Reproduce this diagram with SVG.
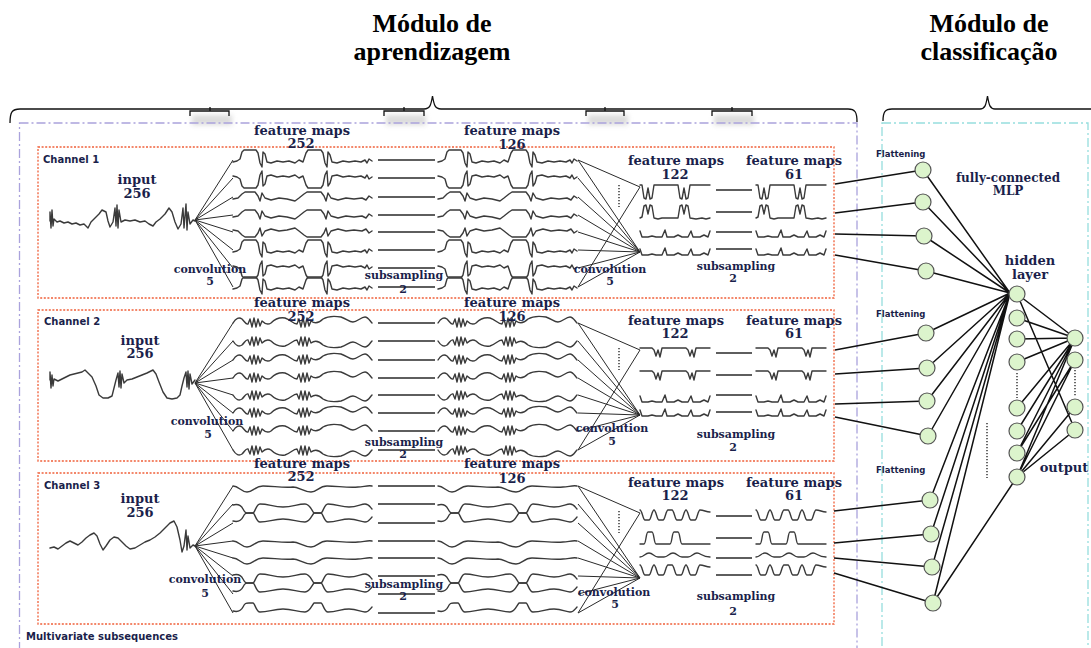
<svg xmlns="http://www.w3.org/2000/svg" width="1091" height="648" viewBox="0 0 1091 648">
<style>
 .w{fill:none;stroke:#3a3a3a;stroke-width:1.4;stroke-linejoin:round;stroke-linecap:round}
 .ln{fill:none;stroke:#2a2a2a;stroke-width:1}
 .sub{fill:none;stroke:#2a2a2a;stroke-width:1.4}
 .dots{fill:none;stroke:#444;stroke-width:1.6;stroke-dasharray:1.2 1.8}
 .chbox{fill:none;stroke:#f0603a;stroke-width:1.3;stroke-dasharray:2 1.6}
 .mod1{fill:none;stroke:#aaa2dc;stroke-width:1.3;stroke-dasharray:9 3 2 3}
 .mod2{fill:none;stroke:#96dede;stroke-width:1.3;stroke-dasharray:9 3 2 3}
 .brace{fill:none;stroke:#111;stroke-width:1.3}
 .mlp{fill:none;stroke:#111;stroke-width:1.5}
 .node{fill:#dcf4cc;stroke:#555;stroke-width:1.2}
 .title{font-family:"Liberation Serif",serif;font-weight:bold;font-size:26px;fill:#000;text-anchor:middle}
 .lb{font-family:"DejaVu Serif",serif;font-weight:bold;fill:#1b1f4b;text-anchor:middle}
 .fm{font-size:13px}
 .sm{font-size:11px}
 .ch{font-family:"DejaVu Sans",sans-serif;font-weight:bold;font-size:10px;fill:#1b1f4b}
 .fl{font-family:"DejaVu Sans",sans-serif;font-weight:bold;font-size:8.5px;fill:#1b1f4b}
</style>
<defs>
 <filter id="soft" x="-30%" y="-60%" width="160%" height="220%"><feGaussianBlur stdDeviation="2.5"/></filter>
 <!-- long feature-map traces, 139 px wide, baseline at y=0 -->
 <path id="P" class="w" d="M0,2 L4,1 L7,-1 L9,-8 L11,-10 L23,-10 L25,-7 L27,3 L29,7 L30,-8 L32,-6 L34,2 L38,3 L44,1 L50,2 L56,1 L62,3 L66,0 L70,2 L73,-7 L75,-10 L88,-10 L90,-7 L92,3 L94,7 L95,-8 L97,-5 L99,2 L104,3 L110,1 L116,2 L122,1 L128,2 L132,0 L134,3 L136,-1 L139,1"/>
 <path id="Q" class="w" d="M0,2 L5,1 L9,-3 L12,-5 L22,-5 L25,-1 L27,4 L29,-4 L32,1 L38,3 L46,1 L54,2 L62,4 L66,1 L71,-3 L74,-5 L88,-5 L91,-1 L93,4 L95,-4 L98,1 L105,3 L113,1 L121,2 L129,1 L133,3 L136,-1 L139,1"/>
 <path id="W" class="w" d="M0,0 C3,-5 6,-6 9,-4 C12,-1 13,2 15,1 L17,-4 L19,4 L21,-5 L23,4 L25,-4 L27,3 L29,-2 C32,1 35,2 38,0 C42,-4 46,-6 52,-5 C58,-3 60,1 64,1 L66,-4 L68,4 L70,-5 L72,4 L74,-5 L76,3 L78,-2 C82,1 86,0 90,-4 C95,-7 102,-7 108,-6 C114,-4 116,-1 120,-1 C124,-1 128,-6 132,-6 C135,-6 137,-2 139,0"/>
 <path id="S" class="w" d="M0,-8 C4,-9 8,-8 10,-4 C12,0 13,0 16,0 L20,0 C22,0 23,-9 27,-9 C36,-9 40,-6 50,-6 C60,-6 64,-9 72,-9 C77,-9 79,-2 81,0 L88,0 C90,0 91,-9 95,-9 C104,-9 108,-6 116,-6 C124,-6 128,-9 132,-9 C136,-9 137,-6 139,-4"/>
 <path id="G" class="w" d="M0,-2 C6,-2 8,4 14,4 C20,4 22,-2 30,-2 C40,-2 50,0 60,-1 C66,-1 70,4 78,4 C84,4 86,-2 94,-2 C104,-2 115,0 125,-1 C130,-1 135,-3 139,-2"/>
 <!-- short feature-map traces, 70 px wide -->
 <path id="V2" class="w" d="M0,0 L2,0 L4,13 L6,14 L8,3 L10,14 L12,13 L14,0 L38,0 L40,13 L42,14 L44,3 L46,14 L48,13 L50,0 L70,0"/>
 <path id="M2" class="w" d="M0,0 L2,-1 L4,-12 L6,-13 L8,-4 L10,-13 L12,-12 L14,0 L18,1 L22,0 L38,0 L40,-12 L42,-13 L44,-4 L46,-13 L48,-12 L50,0 L56,1 L62,0 L66,1 L70,0"/>
 <path id="K" class="w" d="M0,-6 L2,0 L8,0 L12,-1 L16,0 L22,0 L25,-7 L27,0 L34,0 L38,-2 L42,0 L48,0 L51,-6 L53,0 L60,0 L64,-2 L68,0 L70,-6"/>
 <path id="D" class="w" d="M0,0 L12,0 L14,2 L16,8 L18,2 L20,9 L22,0 L46,0 L48,2 L50,8 L52,2 L54,9 L56,0 L70,0"/>
 <path id="SV" class="w" d="M0,0 C2,0 3,10 5,10 L9,10 C11,10 12,0 14,0 C16,0 17,10 19,10 L23,10 C25,10 26,0 28,0 L32,0 C34,0 35,10 37,10 L41,10 C43,10 44,0 46,0 C48,0 49,10 51,10 L55,10 C57,10 58,0 60,0 C64,0 66,2 70,2"/>
 <path id="SP" class="w" d="M0,0 L4,0 C6,0 6,-12 8,-12 L12,-12 C14,-12 14,0 16,0 L30,0 C32,0 32,-12 34,-12 L38,-12 C40,-12 40,0 42,0 L70,0"/>
 <path id="SG" class="w" d="M0,0 C4,0 5,-4 9,-4 C13,-4 14,0 18,0 L24,0 C28,0 29,-4 33,-4 C37,-4 38,0 42,0 L48,0 C52,0 53,-4 57,-4 C61,-4 62,0 70,0"/>
 <!-- frame shared by every channel: box, convolution fans, subsampling links -->
 <g id="skel">
  <rect class="chbox" x="38" y="147" width="796" height="151"/>
  <path class="ln" d="M195,220 L233,160 M195,220 L233,178 M195,220 L233,197 M195,220 L233,215 M195,220 L233,232 M195,220 L233,250 M195,220 L233,268 M195,220 L233,287"/>
  <path class="sub" d="M378,160 H435 M378,178 H435 M378,197 H435 M378,215 H435 M378,232 H435 M378,250 H435 M378,268 H435 M378,287 H435"/>
  <path class="ln" d="M578,160 L640,252 M578,178 L640,252 M578,197 L640,252 M578,215 L640,252 M578,232 L640,252 M578,250 L640,252 M578,268 L640,252 M578,287 L640,252 M578,160 L640,187 M578,287 L640,187"/>
  <path class="dots" d="M619,185 V207"/>
  <path class="sub" d="M716,190 H752 M716,212 H752 M716,232 H752 M716,249 H752"/>
 </g>
</defs>

<rect width="1091" height="648" fill="#fff"/>

<!-- module headings and braces -->
<g id="headings">
 <text class="title" x="432" y="32">Módulo de</text>
 <text class="title" x="432" y="60">aprendizagem</text>
 <text class="title" x="989" y="32">Módulo de</text>
 <text class="title" x="989" y="60">classificação</text>
 <path class="brace" d="M10,123 C10,112 12,109 20,109 L424,109 C430,109 431,105 432.5,96 C434,105 435,109 441,109 L848,109 C855,109 857,112 857,122"/>
 <path class="brace" d="M883,121 C883,112 885,109 892,109 L980,109 C985,109 986,105 987.5,96 C989,105 990,109 995,109 L1091,109"/>
 <g fill="#c4c4c4" opacity="0.6" filter="url(#soft)">
  <rect x="192" y="115" width="40" height="10"/>
  <rect x="386" y="115" width="40" height="10"/>
  <rect x="588" y="115" width="40" height="10"/>
  <rect x="714" y="115" width="40" height="10"/>
 </g>
 <path class="brace" d="M190,116 V111 H229 V116 M210,111 V107 M384,116 V111 H424 V116 M404,111 V107 M586,116 V111 H624 V116 M605,111 V107 M712,116 V111 H752 V116 M732,111 V107"/>
</g>

<rect class="mod1" x="19.5" y="123" width="837.5" height="540"/>
<rect class="mod2" x="882" y="123" width="206" height="540"/>

<!-- channel 1 -->
<g id="channel-1">
 <use href="#skel"/>
 <path class="w" d="M50,221 L50,212 L51,228 L52,210 L53,226 L54,219 L57,222 L60,221 L64,223 L68,222 L72,224 L76,223 L80,225 L84,224 L88,228 L91,222 L95,218 L99,214 L102,210 L106,212 L108,221 L110,227 L113,222 L115,208 L116,226 L117,205 L118,228 L119,210 L121,222 L125,220 L130,221 L135,220 L140,222 L145,221 L149,224 L153,226 L156,222 L160,219 L165,214 L169,208 L172,212 L175,222 L178,229 L181,224 L183,208 L184,228 L186,204 L187,230 L188,212 L190,224 L193,220 L195,221"/>
 <use href="#P" x="233" y="160"/>
 <use href="#P" transform="translate(233,178) scale(1,-1)"/>
 <use href="#Q" x="233" y="197"/>
 <use href="#Q" x="233" y="215"/>
 <use href="#Q" transform="translate(233,232) scale(1,-1)"/>
 <use href="#P" x="233" y="250"/>
 <use href="#P" transform="translate(233,268) scale(1,-1)"/>
 <use href="#P" x="233" y="287"/>
 <use href="#P" x="438" y="160"/>
 <use href="#P" transform="translate(438,178) scale(1,-1)"/>
 <use href="#Q" x="438" y="197"/>
 <use href="#Q" x="438" y="215"/>
 <use href="#Q" transform="translate(438,232) scale(1,-1)"/>
 <use href="#P" x="438" y="250"/>
 <use href="#P" transform="translate(438,268) scale(1,-1)"/>
 <use href="#P" x="438" y="287"/>
 <use href="#V2" x="640" y="185"/>
 <use href="#M2" x="640" y="218"/>
 <use href="#K" x="640" y="237"/>
 <use href="#K" x="640" y="255"/>
 <use href="#V2" x="756" y="185"/>
 <use href="#M2" x="756" y="218"/>
 <use href="#K" x="756" y="237"/>
 <use href="#K" x="756" y="255"/>
 <text class="ch" x="43" y="163">Channel 1</text>
 <text class="lb fm" x="137" y="184">input</text>
 <text class="lb fm" x="137" y="198">256</text>
 <text class="lb fm" x="302" y="135">feature maps</text>
 <text class="lb fm" x="301" y="148">252</text>
 <text class="lb sm" x="210" y="273">convolution</text>
 <text class="lb sm" x="210" y="285">5</text>
 <text class="lb sm" x="404" y="279">subsampling</text>
 <text class="lb sm" x="403" y="293">2</text>
 <text class="lb fm" x="512" y="135">feature maps</text>
 <text class="lb fm" x="512" y="149">126</text>
 <text class="lb fm" x="676" y="165">feature maps</text>
 <text class="lb fm" x="675" y="179">122</text>
 <text class="lb fm" x="794" y="165">feature maps</text>
 <text class="lb fm" x="794" y="179">61</text>
 <text class="lb sm" x="610" y="273">convolution</text>
 <text class="lb sm" x="610" y="285">5</text>
 <text class="lb sm" x="736" y="270">subsampling</text>
 <text class="lb sm" x="733" y="282">2</text>
</g>

<!-- channel 2 -->
<g id="channel-2">
 <use href="#skel" transform="translate(0,163)"/>
 <path class="w" d="M50,380 L50,372 L51,388 L52,375 L53,386 L54,379 L58,381 L62,379 L66,377 L70,375 L74,374 L78,373 L82,372 L85,370 L88,373 L92,377 L96,386 L99,395 L103,398 L108,398 L112,396 L114,388 L116,380 L118,373 L119,387 L120,371 L121,388 L122,374 L124,383 L127,380 L132,379 L137,377 L142,375 L147,373 L153,370 L156,374 L159,382 L163,392 L167,398 L172,399 L177,398 L180,395 L182,386 L184,378 L186,372 L187,387 L188,371 L189,389 L190,374 L192,384 L195,380"/>
 <use href="#W" x="233" y="323"/>
 <use href="#W" transform="translate(233,341) scale(1,-1)"/>
 <use href="#W" x="233" y="360"/>
 <use href="#W" x="233" y="378"/>
 <use href="#W" transform="translate(233,395) scale(1,-1)"/>
 <use href="#W" x="233" y="413"/>
 <use href="#W" x="233" y="431"/>
 <use href="#W" transform="translate(233,450) scale(1,-1)"/>
 <use href="#W" x="438" y="323"/>
 <use href="#W" transform="translate(438,341) scale(1,-1)"/>
 <use href="#W" x="438" y="360"/>
 <use href="#W" x="438" y="378"/>
 <use href="#W" transform="translate(438,395) scale(1,-1)"/>
 <use href="#W" x="438" y="413"/>
 <use href="#W" x="438" y="431"/>
 <use href="#W" transform="translate(438,450) scale(1,-1)"/>
 <use href="#D" x="640" y="348"/>
 <use href="#D" x="640" y="371"/>
 <use href="#K" x="640" y="402"/>
 <use href="#K" x="640" y="416"/>
 <use href="#D" x="756" y="348"/>
 <use href="#D" x="756" y="371"/>
 <use href="#K" x="756" y="402"/>
 <use href="#K" x="756" y="416"/>
 <text class="ch" x="44" y="325">Channel 2</text>
 <text class="lb fm" x="140" y="345">input</text>
 <text class="lb fm" x="140" y="358">256</text>
 <text class="lb fm" x="302" y="307">feature maps</text>
 <text class="lb fm" x="301" y="321">252</text>
 <text class="lb sm" x="207" y="425">convolution</text>
 <text class="lb sm" x="208" y="438">5</text>
 <text class="lb sm" x="404" y="446">subsampling</text>
 <text class="lb sm" x="403" y="458">2</text>
 <text class="lb fm" x="512" y="307">feature maps</text>
 <text class="lb fm" x="512" y="321">126</text>
 <text class="lb fm" x="676" y="325">feature maps</text>
 <text class="lb fm" x="675" y="338">122</text>
 <text class="lb fm" x="794" y="325">feature maps</text>
 <text class="lb fm" x="794" y="338">61</text>
 <text class="lb sm" x="612" y="432">convolution</text>
 <text class="lb sm" x="612" y="445">5</text>
 <text class="lb sm" x="736" y="438">subsampling</text>
 <text class="lb sm" x="733" y="451">2</text>
</g>

<!-- channel 3 -->
<g id="channel-3">
 <use href="#skel" transform="translate(0,326)"/>
 <path class="w" d="M50,548 L54,547 L58,549 L62,546 L66,543 L70,541 L74,543 L78,545 L82,542 L86,538 L90,535 L94,533 L97,536 L100,544 L103,550 L106,546 L110,540 L114,537 L118,538 L122,542 L126,546 L130,549 L135,548 L140,545 L145,542 L150,540 L155,537 L160,533 L165,528 L170,523 L174,521 L177,527 L180,540 L182,552 L184,546 L186,530 L187,550 L188,536 L190,548 L193,545 L195,546"/>
 <use href="#G" x="233" y="488"/>
 <use href="#S" x="233" y="513"/>
 <use href="#S" transform="translate(233,513) scale(1,-1)"/>
 <use href="#G" x="233" y="543"/>
 <use href="#G" x="233" y="560"/>
 <use href="#S" x="233" y="583"/>
 <use href="#S" transform="translate(233,583) scale(1,-1)"/>
 <use href="#S" transform="translate(233,603) scale(1,-1)"/>
 <use href="#G" x="438" y="488"/>
 <use href="#S" x="438" y="513"/>
 <use href="#S" transform="translate(438,513) scale(1,-1)"/>
 <use href="#G" x="438" y="543"/>
 <use href="#G" x="438" y="560"/>
 <use href="#S" x="438" y="583"/>
 <use href="#S" transform="translate(438,583) scale(1,-1)"/>
 <use href="#S" transform="translate(438,603) scale(1,-1)"/>
 <use href="#SV" x="640" y="510"/>
 <use href="#SP" x="640" y="544"/>
 <use href="#SG" x="640" y="557"/>
 <use href="#SV" x="640" y="565"/>
 <use href="#SV" x="756" y="510"/>
 <use href="#SP" x="756" y="544"/>
 <use href="#SG" x="756" y="557"/>
 <use href="#SV" x="756" y="565"/>
 <text class="ch" x="44" y="489">Channel 3</text>
 <text class="lb fm" x="140" y="503">input</text>
 <text class="lb fm" x="140" y="517">256</text>
 <text class="lb fm" x="302" y="468">feature maps</text>
 <text class="lb fm" x="301" y="481">252</text>
 <text class="lb sm" x="205" y="583">convolution</text>
 <text class="lb sm" x="205" y="597">5</text>
 <text class="lb sm" x="404" y="588">subsampling</text>
 <text class="lb sm" x="403" y="600">2</text>
 <text class="lb fm" x="512" y="468">feature maps</text>
 <text class="lb fm" x="512" y="483">126</text>
 <text class="lb fm" x="676" y="487">feature maps</text>
 <text class="lb fm" x="675" y="500">122</text>
 <text class="lb fm" x="794" y="487">feature maps</text>
 <text class="lb fm" x="794" y="500">61</text>
 <text class="lb sm" x="614" y="596">convolution</text>
 <text class="lb sm" x="615" y="608">5</text>
 <text class="lb sm" x="736" y="600">subsampling</text>
 <text class="lb sm" x="733" y="615">2</text>
</g>

<text class="ch" x="26" y="640">Multivariate subsequences</text>

<!-- MLP connections -->
<g id="connectors" class="mlp">
 <path d="M835,184 L923,170 M835,213 L923,202 M835,234 L924,236 M835,255 L926,271"/>
 <path d="M835,350 L926,333 M835,374 L927,368 M835,404 L927,401 M835,417 L928,436"/>
 <path d="M834,511 L930,500 M834,543 L931,534 M834,558 L932,567 M834,573 L933,603"/>
 <path d="M923,170 L1010,293 M923,202 L1010,293 M924,236 L1010,293 M926,271 L1010,293 M926,333 L1010,293 M927,368 L1010,293 M927,401 L1010,293 M928,436 L1010,293 M930,500 L1010,293 M931,534 L1010,293 M932,567 L1010,293 M933,603 L1010,293 M933,603 L1017,477"/>
 <path d="M1017,294 L1075,338 M1017,294 L1075,430 M1017,318 L1075,338 M1017,339 L1075,338 M1017,362 L1075,338 M1017,408 L1075,338 M1017,431 L1075,338 M1017,453 L1075,338 M1017,477 L1075,338 M1017,453 L1075,360 M1017,477 L1075,360 M1017,477 L1075,407 M1017,477 L1075,430"/>
 <path class="dots" d="M987,423 V478 M1017,373 V398 M1075,370 V397"/>
</g>

<g id="flatten-nodes">
 <circle class="node" cx="923" cy="170" r="8"/>
 <circle class="node" cx="923" cy="202" r="8"/>
 <circle class="node" cx="924" cy="236" r="8"/>
 <circle class="node" cx="926" cy="271" r="8"/>
 <circle class="node" cx="926" cy="333" r="8"/>
 <circle class="node" cx="927" cy="368" r="8"/>
 <circle class="node" cx="927" cy="401" r="8"/>
 <circle class="node" cx="928" cy="436" r="8"/>
 <circle class="node" cx="930" cy="500" r="8"/>
 <circle class="node" cx="931" cy="534" r="8"/>
 <circle class="node" cx="932" cy="567" r="8"/>
 <circle class="node" cx="933" cy="603" r="8"/>
 <text class="fl" x="876" y="157">Flattening</text>
 <text class="fl" x="876" y="317">Flattening</text>
 <text class="fl" x="876" y="473">Flattening</text>
</g>

<g id="hidden-layer">
 <circle class="node" cx="1017" cy="294" r="8"/>
 <circle class="node" cx="1017" cy="318" r="8"/>
 <circle class="node" cx="1017" cy="339" r="8"/>
 <circle class="node" cx="1017" cy="362" r="8"/>
 <circle class="node" cx="1017" cy="408" r="8"/>
 <circle class="node" cx="1017" cy="431" r="8"/>
 <circle class="node" cx="1017" cy="453" r="8"/>
 <circle class="node" cx="1017" cy="477" r="8"/>
 <text class="lb fm" x="1030" y="265">hidden</text>
 <text class="lb fm" x="1030" y="279">layer</text>
 <text class="lb" font-size="12" x="1008" y="182">fully-connected</text>
 <text class="lb" font-size="12" x="1008" y="195">MLP</text>
</g>

<g id="output-layer">
 <circle class="node" cx="1075" cy="338" r="8"/>
 <circle class="node" cx="1075" cy="360" r="8"/>
 <circle class="node" cx="1075" cy="407" r="8"/>
 <circle class="node" cx="1075" cy="430" r="8"/>
 <text class="lb fm" x="1064" y="472">output</text>
</g>
</svg>
